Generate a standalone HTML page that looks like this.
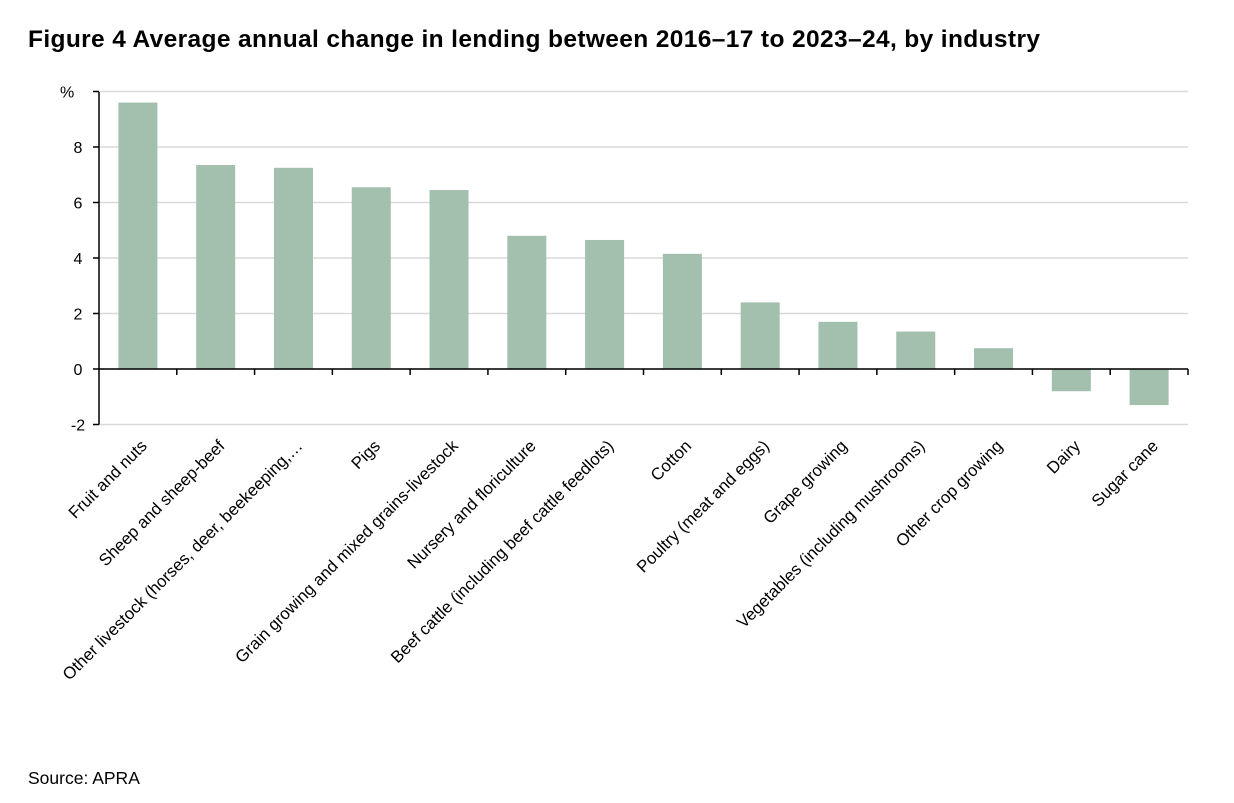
<!DOCTYPE html>
<html><head><meta charset="utf-8"><style>
body{margin:0;background:#fff;width:1234px;height:798px;overflow:hidden;font-family:"Liberation Sans",sans-serif}
</style></head><body>
<svg width="1234" height="798">
<text x="28" y="47" font-size="24.5" font-weight="bold" fill="#000" textLength="1012">Figure 4 Average annual change in lending between 2016–17 to 2023–24, by industry</text>
<text x="28" y="784" font-size="17.5" fill="#000">Source: APRA</text>
<g id="plot"></g>
</svg>
<script>
const categories=["Fruit and nuts","Sheep and sheep-beef","Other livestock (horses, deer, beekeeping,…","Pigs","Grain growing and mixed grains-livestock","Nursery and floriculture","Beef cattle (including beef cattle feedlots)","Cotton","Poultry (meat and eggs)","Grape growing","Vegetables (including mushrooms)","Other crop growing","Dairy","Sugar cane"];
const values=[9.6,7.35,7.25,6.55,6.45,4.8,4.65,4.15,2.4,1.7,1.35,0.75,-0.8,-1.3];
const yTicks=[-2,0,2,4,6,8];
const NS="http://www.w3.org/2000/svg";
const g=document.getElementById('plot');
const x0=99,x1=1188,yTop=92,y0=369,pxPerUnit=27.75;
const y=v=>y0-v*pxPerUnit;
const band=(x1-x0)/categories.length;
function mk(t,a){const e=document.createElementNS(NS,t);for(const k in a)e.setAttribute(k,a[k]);g.appendChild(e);return e;}
[...yTicks,10].forEach(v=>{
  const l=mk('line',{x1:x0,x2:x1,y1:y(v),y2:y(v),stroke:'#d9d9d9','stroke-width':1.5});
  
  
});
yTicks.forEach(v=>{
  const t=mk('text',{x:78,y:y(v)+6,'font-size':16,'text-anchor':'middle',fill:'#000'});
  t.textContent=v;
  
  
});
const pct=mk('text',{x:60,y:y(10)+6,'font-size':16,fill:'#000'});pct.textContent='%';


const ax=mk('line',{x1:x0,x2:x0,y1:yTop,y2:y(-2),stroke:'#000','stroke-width':1.5});


[...yTicks,10].forEach(v=>{mk('line',{x1:x0-6,x2:x0,y1:y(v),y2:y(v),stroke:'#000','stroke-width':1.5});});
categories.forEach((c,i)=>{
  const cx=x0+band*(i+0.5),v=values[i];
  const r=mk('rect',{x:cx-19.5,width:39,y:Math.min(y(v),y0),height:Math.abs(y(v)-y0),fill:'#a3bfae'});
  
  
  const t=mk('text',{x:0,y:0,'font-size':16.8,'text-anchor':'end',fill:'#000',transform:`translate(${cx+10},${447}) rotate(-45)`});
  t.textContent=c;
  
  
});
const xa=mk('line',{x1:x0,x2:x1,y1:y0,y2:y0,stroke:'#000','stroke-width':1.5});


for(let i=1;i<=categories.length;i++){mk('line',{x1:x0+band*i,x2:x0+band*i,y1:y0,y2:y0+6,stroke:'#000','stroke-width':1.5});}
</script>
</body></html>
